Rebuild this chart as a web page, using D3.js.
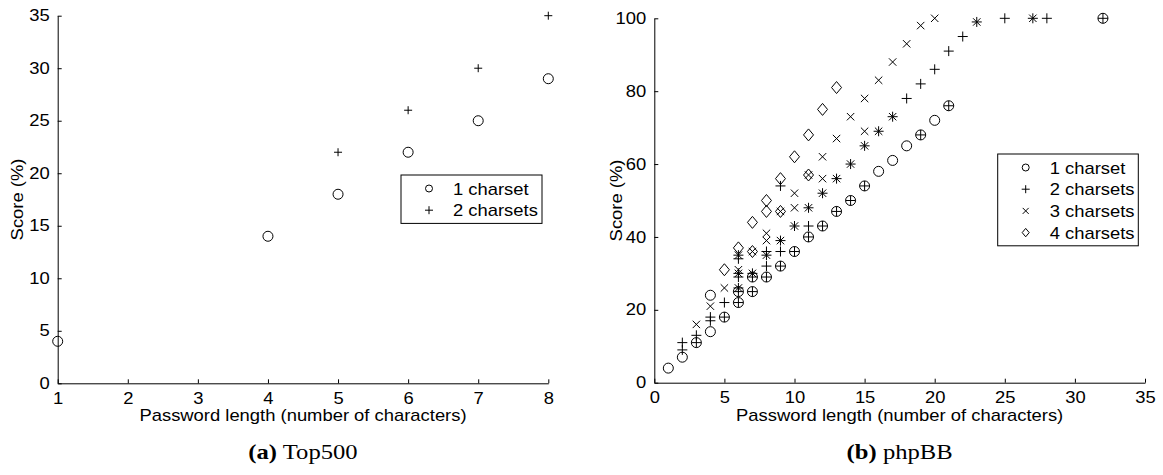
<!DOCTYPE html>
<html>
<head>
<meta charset="utf-8">
<script src="https://cdn.jsdelivr.net/npm/d3@7"></script>
<style>
  html, body { margin: 0; padding: 0; background: #fff; }
  svg { display: block; }
  .tick text, .lbl, .leg { font-family: "Liberation Sans", Arial, Helvetica, sans-serif; fill: #000; }
  .cap { font-family: "Liberation Serif", "DejaVu Serif", serif; fill: #000; }
</style>
</head>
<body>
<svg id="chart" width="1163" height="475"></svg>
<script>
// ---- Top500: score by password length ----
const top500OneCharset = [[1, 4], [4, 14], [5, 18], [6, 22], [7, 25], [8, 29]];
const top500TwoCharsets = [[5, 22], [6, 26], [7, 30], [8, 35]];
const top500XTicks = [1, 2, 3, 4, 5, 6, 7, 8];
const top500YTicks = [0, 5, 10, 15, 20, 25, 30, 35];

// ---- phpBB: score by password length ----
const phpbbOneCharset = [
  [1, 4], [2, 7], [3, 11], [4, 14], [4, 24], [5, 18], [6, 22], [6, 25], [7, 25], [7, 29],
  [8, 29], [9, 32], [10, 36], [11, 40], [12, 43], [13, 47], [14, 50], [15, 54], [16, 58],
  [17, 61], [18, 65], [19, 68], [20, 72], [21, 76], [32, 100]
];
const phpbbTwoCharsets = [
  [2, 9], [2, 11], [3, 11], [3, 13], [4, 17], [4, 18], [5, 18], [5, 22], [6, 22], [6, 25],
  [6, 26], [6, 29], [6, 30], [6, 34], [6, 35], [7, 25], [7, 29], [7, 30], [8, 29], [8, 32],
  [8, 35], [8, 36], [9, 32], [9, 36], [9, 39], [9, 54], [10, 36], [10, 43], [11, 40], [11, 43],
  [11, 48], [12, 43], [12, 52], [13, 47], [13, 56], [14, 50], [14, 60], [15, 54], [15, 65],
  [16, 69], [17, 73], [18, 78], [19, 68], [19, 82], [20, 86], [21, 76], [21, 91], [22, 95],
  [23, 99], [25, 100], [27, 100], [28, 100], [32, 100]
];
const phpbbThreeCharsets = [
  [3, 16], [4, 21], [5, 26], [6, 26], [6, 30], [6, 31], [6, 35], [7, 30], [7, 36], [8, 35],
  [8, 39], [8, 41], [9, 39], [9, 47], [10, 43], [10, 48], [10, 52], [11, 48], [11, 57],
  [12, 52], [12, 56], [12, 62], [13, 56], [13, 67], [14, 60], [14, 73], [15, 65], [15, 69],
  [15, 78], [16, 69], [16, 83], [17, 73], [17, 88], [18, 93], [19, 98], [20, 100], [23, 99],
  [27, 100]
];
const phpbbFourCharsets = [
  [5, 31], [6, 37], [7, 36], [7, 44], [8, 47], [8, 50], [9, 47], [9, 56], [10, 62],
  [11, 57], [11, 68], [12, 75], [13, 81]
];
const phpbbXTicks = [0, 5, 10, 15, 20, 25, 30, 35];
const phpbbYTicks = [0, 20, 40, 60, 80, 100];

const xTitle = "Password length (number of characters)";
const yTitle = "Score (%)";

// Helvetica-style labels are a little wider than Liberation Sans at the same height.
const WIDEN = "scale(1.15,1)";

const svg = d3.select("#chart");

// Marker outlines, centred on the origin.
function markerPath(kind, s) {
  const p = d3.path();
  if (kind === "circle") {
    p.moveTo(s, 0); p.arc(0, 0, s, 0, 2 * Math.PI);
  } else if (kind === "plus") {
    p.moveTo(-s, 0); p.lineTo(s, 0); p.moveTo(0, -s); p.lineTo(0, s);
  } else if (kind === "cross") {
    p.moveTo(-s, -s); p.lineTo(s, s); p.moveTo(-s, s); p.lineTo(s, -s);
  } else if (kind === "diamond") {
    const h = s * 1.2;
    p.moveTo(0, -h); p.lineTo(s, 0); p.lineTo(0, h); p.lineTo(-s, 0); p.closePath();
  }
  return p.toString();
}

function panel(opt) {
  const x = d3.scaleLinear().domain(opt.xDomain).range([opt.left, opt.right]);
  const y = d3.scaleLinear().domain(opt.yDomain).range([opt.bottom, opt.top]);
  const g = svg.append("g");

  const xAxis = g.append("g")
    .attr("transform", `translate(0,${opt.bottom})`)
    .call(d3.axisBottom(x).tickValues(opt.xTicks).tickFormat(d3.format("d"))
      .tickSizeInner(-4).tickSizeOuter(0).tickPadding(9));
  const yAxis = g.append("g")
    .attr("transform", `translate(${opt.left},0)`)
    .call(d3.axisLeft(y).tickValues(opt.yTicks).tickFormat(d3.format("d"))
      .tickSizeInner(-4).tickSizeOuter(0).tickPadding(7));
  [xAxis, yAxis].forEach(a => {
    a.selectAll(".domain").attr("stroke", "#000").attr("stroke-width", 1);
    a.selectAll(".tick line").attr("stroke", "#000").attr("stroke-width", 1);
    a.selectAll(".tick text").style("font-size", "16px").attr("font-family", null)
      .attr("transform", WIDEN);
  });

  g.append("text").attr("class", "lbl")
    .attr("transform", `translate(${(opt.left + opt.right) / 2},421) ${WIDEN}`)
    .attr("text-anchor", "middle").style("font-size", "16px").text(xTitle);
  g.append("text").attr("class", "lbl")
    .attr("transform", `translate(${opt.yTitleX},${(opt.top + opt.bottom) / 2}) rotate(-90) ${WIDEN}`)
    .attr("text-anchor", "middle").style("font-size", "16px").text(yTitle);

  opt.series.forEach(s => {
    g.append("g").selectAll("path").data(s.values).join("path")
      .attr("transform", d => `translate(${x(d[0])},${y(d[1])})`)
      .attr("d", markerPath(s.kind, s.size))
      .attr("fill", "none").attr("stroke", "#000").attr("stroke-width", 1);
  });

  // legend box
  const lg = g.append("g").attr("transform", `translate(${opt.legend.x},${opt.legend.y})`);
  const rowH = 21.7;
  lg.append("rect").attr("x", 0).attr("y", 0)
    .attr("width", opt.legend.w).attr("height", opt.series.length * rowH + 5)
    .attr("fill", "#fff").attr("stroke", "#000").attr("stroke-width", 1);
  opt.series.forEach((s, i) => {
    const cy = 13.5 + i * rowH;
    lg.append("path").attr("transform", `translate(28,${cy})`)
      .attr("d", markerPath(s.kind, s.legendSize))
      .attr("fill", "none").attr("stroke", "#000").attr("stroke-width", 1);
    lg.append("text").attr("class", "leg")
      .attr("transform", `translate(52,${cy + 6}) ${WIDEN}`)
      .style("font-size", "16px").text(s.name);
  });

  // caption
  const cap = g.append("text").attr("class", "cap")
    .attr("transform", `translate(${(opt.left + opt.right) / 2},459) scale(1.12,1)`)
    .attr("text-anchor", "middle").style("font-size", "22px");
  cap.append("tspan").attr("font-weight", "bold").text(opt.captionTag);
  cap.append("tspan").text(" " + opt.captionName);
}

panel({
  left: 57.7, right: 548.3, top: 15.7, bottom: 383.3,
  xDomain: [1, 8], yDomain: [0, 35], xTicks: top500XTicks, yTicks: top500YTicks,
  yTitleX: 23,
  series: [
    { name: "1 charset", kind: "circle", values: top500OneCharset, size: 5, legendSize: 3.5 },
    { name: "2 charsets", kind: "plus", values: top500TwoCharsets, size: 4, legendSize: 4 }
  ],
  legend: { x: 401, y: 175, w: 141 },
  captionTag: "(a)", captionName: "Top500"
});

panel({
  left: 654.3, right: 1145, top: 18.3, bottom: 382.7,
  xDomain: [0, 35], yDomain: [0, 100], xTicks: phpbbXTicks, yTicks: phpbbYTicks,
  yTitleX: 622,
  series: [
    { name: "1 charset", kind: "circle", values: phpbbOneCharset, size: 5, legendSize: 3.5 },
    { name: "2 charsets", kind: "plus", values: phpbbTwoCharsets, size: 5, legendSize: 4 },
    { name: "3 charsets", kind: "cross", values: phpbbThreeCharsets, size: 3.7, legendSize: 3 },
    { name: "4 charsets", kind: "diamond", values: phpbbFourCharsets, size: 5, legendSize: 3.5 }
  ],
  legend: { x: 997.7, y: 154, w: 140.6 },
  captionTag: "(b)", captionName: "phpBB"
});
</script>
</body>
</html>
